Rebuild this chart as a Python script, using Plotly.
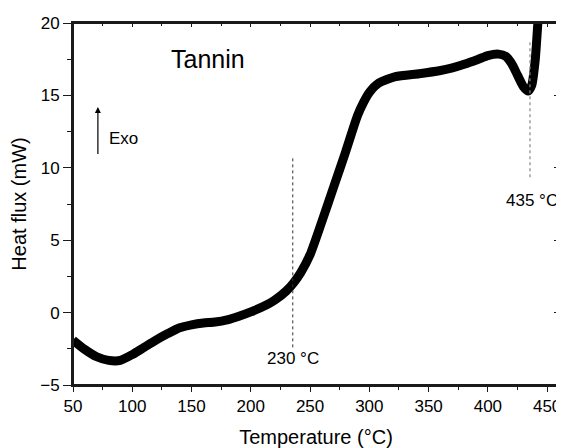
import plotly.graph_objects as go

temperature = [50, 60, 70, 80, 90, 100, 110, 120, 130, 140, 150, 160, 170, 180, 190, 200, 210, 220, 230, 236,
               242, 250, 260, 270, 280, 290, 295, 300, 308, 322, 342, 359, 370, 380, 392, 400, 409, 415, 420,
               425, 430, 434, 437, 440, 442, 444]
heat_flux = [-1.9, -2.55, -3.05, -3.3, -3.3, -2.9, -2.4, -1.9, -1.45, -1.05, -0.85, -0.72, -0.65, -0.5, -0.25, 0.05, 0.4, 0.85, 1.5, 2.05,
             2.75, 4.0, 6.3, 8.7, 11.1, 13.6, 14.5, 15.2, 15.85, 16.3, 16.5, 16.7, 16.9, 17.15, 17.5, 17.75, 17.85, 17.7, 17.2,
             16.4, 15.6, 15.3, 15.7, 17.5, 19.8, 22]

xticks = [50, 100, 150, 200, 250, 300, 350, 400, 450]
yticks = [-5, 0, 5, 10, 15, 20]
x_range = [50, 460]
y_range = [-5, 20]
peaks = [235.4, 435.5]
peak_labels = ["230 °C", "435 °C"]

font = "Liberation Sans, Arial, sans-serif"
frame_color = "#1a1a1a"

fig = go.Figure()
fig.add_trace(go.Scatter(x=temperature, y=heat_flux, mode="lines",
                         line=dict(color="black", width=9, shape="spline", smoothing=0.6),
                         showlegend=False, hoverinfo="skip"))
fig.add_trace(go.Scatter(x=x_range, y=y_range, mode="markers", marker=dict(size=1, color="rgba(255,255,255,0)"),
                         xaxis="x2", yaxis="y2", showlegend=False, hoverinfo="skip"))

# plot frame
fig.add_shape(type="rect", xref="paper", yref="paper", x0=0, x1=1, y0=0, y1=1,
              line=dict(color=frame_color, width=2), fillcolor="rgba(0,0,0,0)", layer="above")

# dotted guide lines
fig.add_shape(type="line", x0=peaks[0], x1=peaks[0], y0=-2.4, y1=10.85, xref="x", yref="y",
              line=dict(color="#333333", width=1, dash="dot"))
fig.add_shape(type="line", x0=peaks[1], x1=peaks[1], y0=9.35, y1=18.8, xref="x", yref="y",
              line=dict(color="#888888", width=1.2, dash="dot"))

fig.add_annotation(x=peaks[0], y=-3.15, text=peak_labels[0], showarrow=False,
                   font=dict(family=font, size=17, color="black"))
fig.add_annotation(x=437.2, y=7.73, text=peak_labels[1], showarrow=False,
                   font=dict(family=font, size=17, color="black"))
fig.add_annotation(x=163.6, y=17.5, text="Tannin", showarrow=False,
                   font=dict(family=font, size=25, color="black"))
fig.add_annotation(x=78.6, y=12.0, text="Exo", showarrow=False, xanchor="left",
                   font=dict(family=font, size=17, color="black"))
fig.add_annotation(x=71, y=14.2, ax=71, ay=10.85, axref="x", ayref="y", xref="x", yref="y",
                   text="", showarrow=True, arrowhead=2, arrowsize=1, arrowwidth=1.2, arrowcolor="black")

axis_common = dict(showline=True, linecolor=frame_color, linewidth=2, showgrid=False, zeroline=False,
                   tickcolor=frame_color, tickfont=dict(family=font, size=17, color="black"))

fig.update_layout(
    width=556, height=440,
    margin=dict(l=65, r=3, t=15, b=63),
    paper_bgcolor="white", plot_bgcolor="white",
    xaxis=dict(range=x_range, tickvals=xticks, ticks="outside", ticklen=5, tickwidth=1.3, mirror=True,
               minor=dict(dtick=25, tick0=50, ticks="outside", ticklen=3, tickcolor=frame_color),
               title=dict(text="Temperature (°C)", font=dict(family=font, size=20, color="black"), standoff=15),
               **axis_common),
    yaxis=dict(range=y_range, tickvals=yticks, ticks="outside", ticklen=8, tickwidth=1.3, mirror=True,
               minor=dict(dtick=2.5, tick0=-5, ticks="outside", ticklen=4, tickcolor=frame_color),
               title=dict(text="Heat flux (mW)", font=dict(family=font, size=20, color="black"), standoff=8),
               **axis_common),
    xaxis2=dict(range=x_range, overlaying="x", side="top", anchor="y2", tickvals=xticks, ticks="inside",
                ticklen=4, tickwidth=1.3, showticklabels=False,
                minor=dict(dtick=25, tick0=50, ticks="inside", ticklen=3, tickcolor=frame_color),
                **axis_common),
    yaxis2=dict(range=y_range, overlaying="y", side="right", anchor="x2", tickvals=yticks, ticks="inside",
                ticklen=5, tickwidth=1.3, showticklabels=False,
                minor=dict(dtick=2.5, tick0=-5, ticks="inside", ticklen=3, tickcolor=frame_color),
                **axis_common),
)

fig.write_html("out.html")
